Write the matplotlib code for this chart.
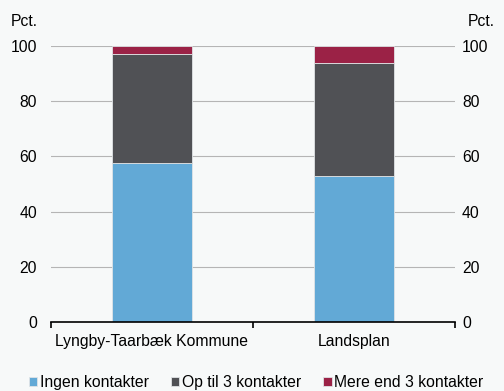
import matplotlib
matplotlib.use("Agg")
import matplotlib.pyplot as plt
import numpy as np

plt.rcParams['font.family'] = ['Liberation Sans', 'DejaVu Sans']

categories = ["Lyngby-Taarbæk Kommune", "Landsplan"]
series_names = ["Ingen kontakter", "Op til 3 kontakter", "Mere end 3 kontakter"]
ingen = [57.6, 53.0]
op_til_3 = [39.4, 40.9]
mere_end_3 = [3.0, 6.1]
colors = ["#62a9d6", "#505155", "#9b2246"]
yticks = [0, 20, 40, 60, 80, 100]

bg = "#f7f9f9"
fs = 11.3
fig = plt.figure(figsize=(5.04, 3.91), dpi=100, facecolor=bg)
ax = fig.add_axes([0.101, 0.1765, 0.802, 0.706], facecolor=bg)

x = np.arange(len(categories))
bottom = np.zeros(len(categories))
for name, vals, c in zip(series_names, [ingen, op_til_3, mere_end_3], colors):
    ax.bar(x, vals, 0.4, bottom=bottom, color=c, label=name,
           edgecolor="#e0e4e6", linewidth=0.6, zorder=3)
    bottom += np.array(vals)

ax.set_xlim(-0.5, 1.5)
ax.set_ylim(0, 100)
ax.set_yticks(yticks)
ax.grid(axis="y", color="#b5b5b5", linewidth=0.8, zorder=0)
for s in ["left", "right", "top"]:
    ax.spines[s].set_visible(False)
ax.spines["bottom"].set_color("black")
ax.spines["bottom"].set_linewidth(1.2)
ax.spines["bottom"].set_zorder(4)

ax.set_xticks(x)
ax.set_xticklabels(categories, fontsize=fs)
ax.set_xticks([-0.5, 0.5, 1.5], minor=True)
ax.tick_params(axis="x", which="major", length=0, pad=9)
ax.tick_params(axis="x", which="minor", length=4, width=1.2, color="black", direction="out")
ax.tick_params(axis="y", length=0, labelsize=fs, pad=10)

# right-hand axis with the same scale
ax2 = ax.twinx()
ax2.set_ylim(ax.get_ylim())
ax2.set_yticks(yticks)
ax2.tick_params(axis="y", length=0, labelsize=fs, pad=5)
for s in ax2.spines.values():
    s.set_visible(False)

fig.text(0.048, 0.945, "Pct.", ha="center", va="center", fontsize=fs)
fig.text(0.954, 0.945, "Pct.", ha="center", va="center", fontsize=fs)

fig.legend(loc="lower center", bbox_to_anchor=(0.508, -0.034), ncol=3, frameon=False,
           fontsize=fs, handlelength=0.55, handleheight=0.55, handletextpad=0.15,
           columnspacing=1.4)

fig.savefig("out.png", dpi=100, facecolor=bg)
